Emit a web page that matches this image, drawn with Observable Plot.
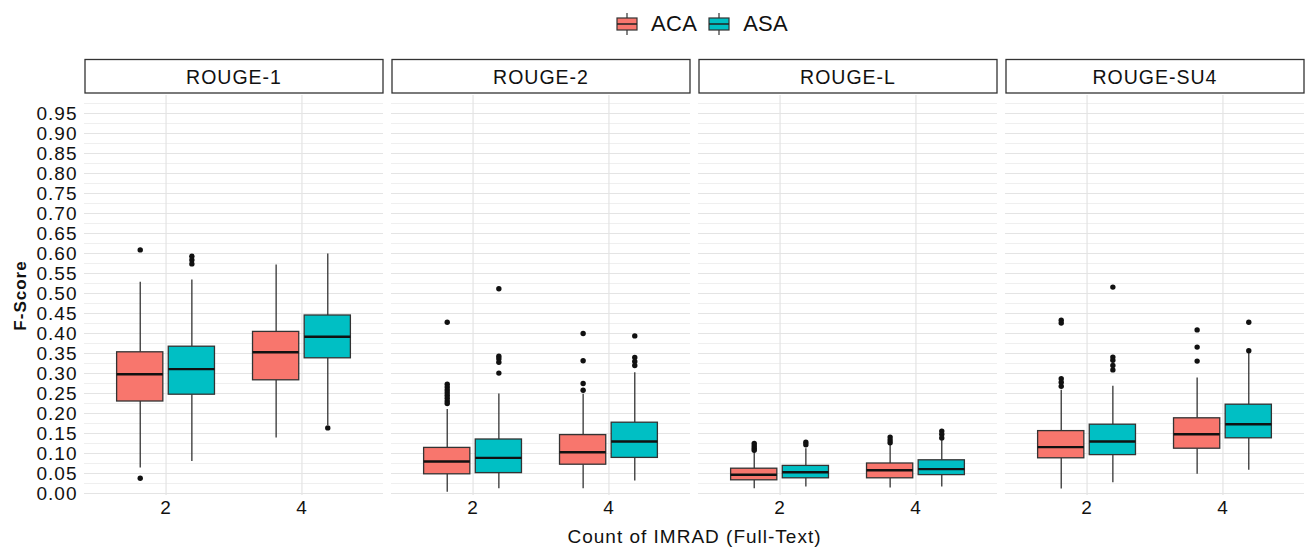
<!DOCTYPE html>
<html>
<head>
<meta charset="utf-8">
<script src="https://cdn.jsdelivr.net/npm/d3@7"></script>
<script src="https://cdn.jsdelivr.net/npm/@observablehq/plot@0.6"></script>
<style>
  html, body { margin: 0; padding: 0; background: white; }
  body { width: 1309px; height: 547px; position: relative; overflow: hidden;
         font-family: "Liberation Sans", Arial, sans-serif; color: #111; }
  #legend { position: absolute; top: 11px; left: 616px; display: flex; align-items: center; font-size: 22px; }
  #legend span { margin-left: 13px; margin-right: 11px; letter-spacing: 0.3px; }
  #chart { position: absolute; top: 45px; left: 0; }
  #chart svg text { letter-spacing: 1px; }
</style>
</head>
<body>
<div id="legend"></div>
<div id="chart"></div>
<script>
// ---- data ----
const metrics = ["ROUGE-1", "ROUGE-2", "ROUGE-L", "ROUGE-SU4"];
const counts = ["2", "4"];
const methods = ["ACA", "ASA"];
const colors = ["#F8766D", "#00BFC4"];
// group order: metric -> count -> method
const lowerWhisker = [0.064, 0.080, 0.139, 0.170,  0.003, 0.012, 0.012, 0.031,  0.012, 0.016, 0.014, 0.016,  0.011, 0.027, 0.048, 0.058];
const q1           = [0.230, 0.247, 0.283, 0.338,  0.048, 0.051, 0.072, 0.089,  0.033, 0.038, 0.038, 0.046,  0.088, 0.096, 0.112, 0.138];
const median       = [0.298, 0.311, 0.353, 0.392,  0.080, 0.089, 0.103, 0.130,  0.047, 0.053, 0.058, 0.061,  0.116, 0.130, 0.148, 0.173];
const q3           = [0.353, 0.367, 0.404, 0.445,  0.114, 0.135, 0.146, 0.177,  0.062, 0.069, 0.075, 0.083,  0.156, 0.172, 0.188, 0.222];
const upperWhisker = [0.528, 0.534, 0.571, 0.599,  0.210, 0.249, 0.248, 0.302,  0.103, 0.112, 0.120, 0.133,  0.258, 0.268, 0.289, 0.352];
const outliers = [
  [0.609, 0.038], [0.593, 0.584, 0.574], [], [0.164],
  [0.428, 0.273, 0.266, 0.259, 0.252, 0.245, 0.238, 0.231, 0.225], [0.512, 0.343, 0.337, 0.328, 0.301], [0.400, 0.332, 0.275, 0.258], [0.394, 0.340, 0.330, 0.320],
  [0.125, 0.119, 0.113, 0.108], [0.128, 0.122], [0.141, 0.134, 0.127], [0.156, 0.148, 0.139],
  [0.433, 0.426, 0.287, 0.278, 0.268], [0.516, 0.341, 0.333, 0.320, 0.309], [0.409, 0.366, 0.331], [0.428, 0.357]
];
const yTicks = [0, 0.05, 0.10, 0.15, 0.20, 0.25, 0.30, 0.35, 0.40, 0.45, 0.50, 0.55, 0.60, 0.65, 0.70, 0.75, 0.80, 0.85, 0.90, 0.95];
const yMinor = [0.025, 0.075, 0.125, 0.175, 0.225, 0.275, 0.325, 0.375, 0.425, 0.475, 0.525, 0.575, 0.625, 0.675, 0.725, 0.775, 0.825, 0.875, 0.925, 0.975];
const xTitle = "Count of IMRAD (Full-Text)";
const yTitle = "F-Score";

// ---- build table ----
const dodge = 0.19, halfBox = 0.17;
const rows = [];
let k = 0;
for (const m of metrics) {
  counts.forEach((c, ci) => {
    for (const meth of methods) {
      rows.push({
        metric: m, count: c, method: meth,
        pos: ci + 1 + (meth === "ACA" ? -dodge : dodge),
        wl: lowerWhisker[k], q1: q1[k], med: median[k], q3: q3[k], wu: upperWhisker[k],
        out: outliers[k]
      });
      k++;
    }
  });
}
const outRows = rows.flatMap(r => r.out.map(v => ({metric: r.metric, pos: r.pos, v})));

// ---- legend ----
const legend = d3.select("#legend");
methods.forEach((m, i) => {
  const s = legend.append("svg").attr("width", 22).attr("height", 22);
  s.append("line").attr("x1", 11).attr("x2", 11).attr("y1", 0).attr("y2", 22).attr("stroke", "#333").attr("stroke-width", 1.2);
  s.append("rect").attr("x", 1).attr("y", 5).attr("width", 20).attr("height", 12).attr("fill", colors[i]).attr("stroke", "#333").attr("stroke-width", 1.2);
  s.append("line").attr("x1", 1).attr("x2", 21).attr("y1", 11).attr("y2", 11).attr("stroke", "#222").attr("stroke-width", 1.5);
  legend.append("span").text(m);
});

// ---- plot ----
const plot = Plot.plot({
  width: 1309, height: 502,
  marginLeft: 83, marginRight: 3, marginTop: 50, marginBottom: 52,
  style: {fontFamily: "Liberation Sans, Arial, sans-serif", fontSize: "19px", color: "#111", background: "white"},
  fx: {domain: metrics, paddingInner: 0.026, paddingOuter: 0, axis: null, label: null},
  x: {domain: [0.4, 2.6], axis: null},
  y: {domain: [-0.005, 0.995], axis: null},
  color: {domain: methods, range: colors},
  marks: [
    Plot.frame({stroke: "none"}),
    Plot.ruleY(yMinor, {stroke: "#efefef", strokeWidth: 1}),
    Plot.ruleY(yTicks, {stroke: "#e4e4e4", strokeWidth: 1.2}),
    Plot.ruleX([1, 2], {stroke: "#e4e4e4", strokeWidth: 1.2}),
    Plot.ruleX(rows, {fx: "metric", x: "pos", y1: "q3", y2: "wu", stroke: "#333", strokeWidth: 1.3}),
    Plot.ruleX(rows, {fx: "metric", x: "pos", y1: "wl", y2: "q1", stroke: "#333", strokeWidth: 1.3}),
    Plot.rect(rows, {fx: "metric", x1: d => d.pos - halfBox, x2: d => d.pos + halfBox, y1: "q1", y2: "q3", fill: "method", stroke: "#333", strokeWidth: 1.3}),
    Plot.ruleY(rows, {fx: "metric", y: "med", x1: d => d.pos - halfBox, x2: d => d.pos + halfBox, stroke: "#111", strokeWidth: 2.4}),
    Plot.dot(outRows, {fx: "metric", x: "pos", y: "v", r: 2.7, fill: "#111", stroke: "none"}),
    Plot.axisY(yTicks, {anchor: "left", tickSize: 0, tickPadding: 7, tickFormat: d => d.toFixed(2), label: null, fontSize: 19}),
    Plot.axisX([1, 2], {anchor: "bottom", tickSize: 0, tickPadding: 5, tickFormat: i => counts[i - 1], label: null, fontSize: 19})
  ]
});
document.getElementById("chart").appendChild(plot);

// ---- strips and titles, placed from the rendered panel frames ----
const svgBox = plot.getBoundingClientRect();
const frames = Array.from(plot.querySelectorAll('g[aria-label="frame"] rect'));
const svgSel = d3.select(plot);
const panels = frames.map(r => {
  const b = r.getBoundingClientRect();
  return {x: b.left - svgBox.left, y: b.top - svgBox.top, w: b.width, h: b.height};
});
panels.forEach((b, i) => {
  svgSel.append("rect").attr("x", b.x + 0.5).attr("y", b.y - 36).attr("width", b.w - 1).attr("height", 33.5)
    .attr("fill", "white").attr("stroke", "#333").attr("stroke-width", 1.3);
  svgSel.append("text").attr("x", b.x + b.w / 2).attr("y", b.y - 19).attr("text-anchor", "middle")
    .attr("dominant-baseline", "central").attr("font-size", 19.5).attr("fill", "#111").text(metrics[i]);
});
const pLeft = d3.min(panels, b => b.x), pRight = d3.max(panels, b => b.x + b.w);
const pTop = d3.min(panels, b => b.y), pBottom = d3.max(panels, b => b.y + b.h);
svgSel.append("text").attr("x", (pLeft + pRight) / 2).attr("y", pBottom + 41).attr("text-anchor", "middle")
  .attr("dominant-baseline", "central").attr("font-size", 19).attr("fill", "#111").text(xTitle);
svgSel.append("text").attr("transform", `translate(${pLeft - 64},${(pTop + pBottom) / 2}) rotate(-90)`)
  .attr("text-anchor", "middle").attr("dominant-baseline", "central").attr("font-size", 17)
  .attr("font-weight", "bold").attr("letter-spacing", "0px").attr("fill", "#111").text(yTitle);
</script>
</body>
</html>
